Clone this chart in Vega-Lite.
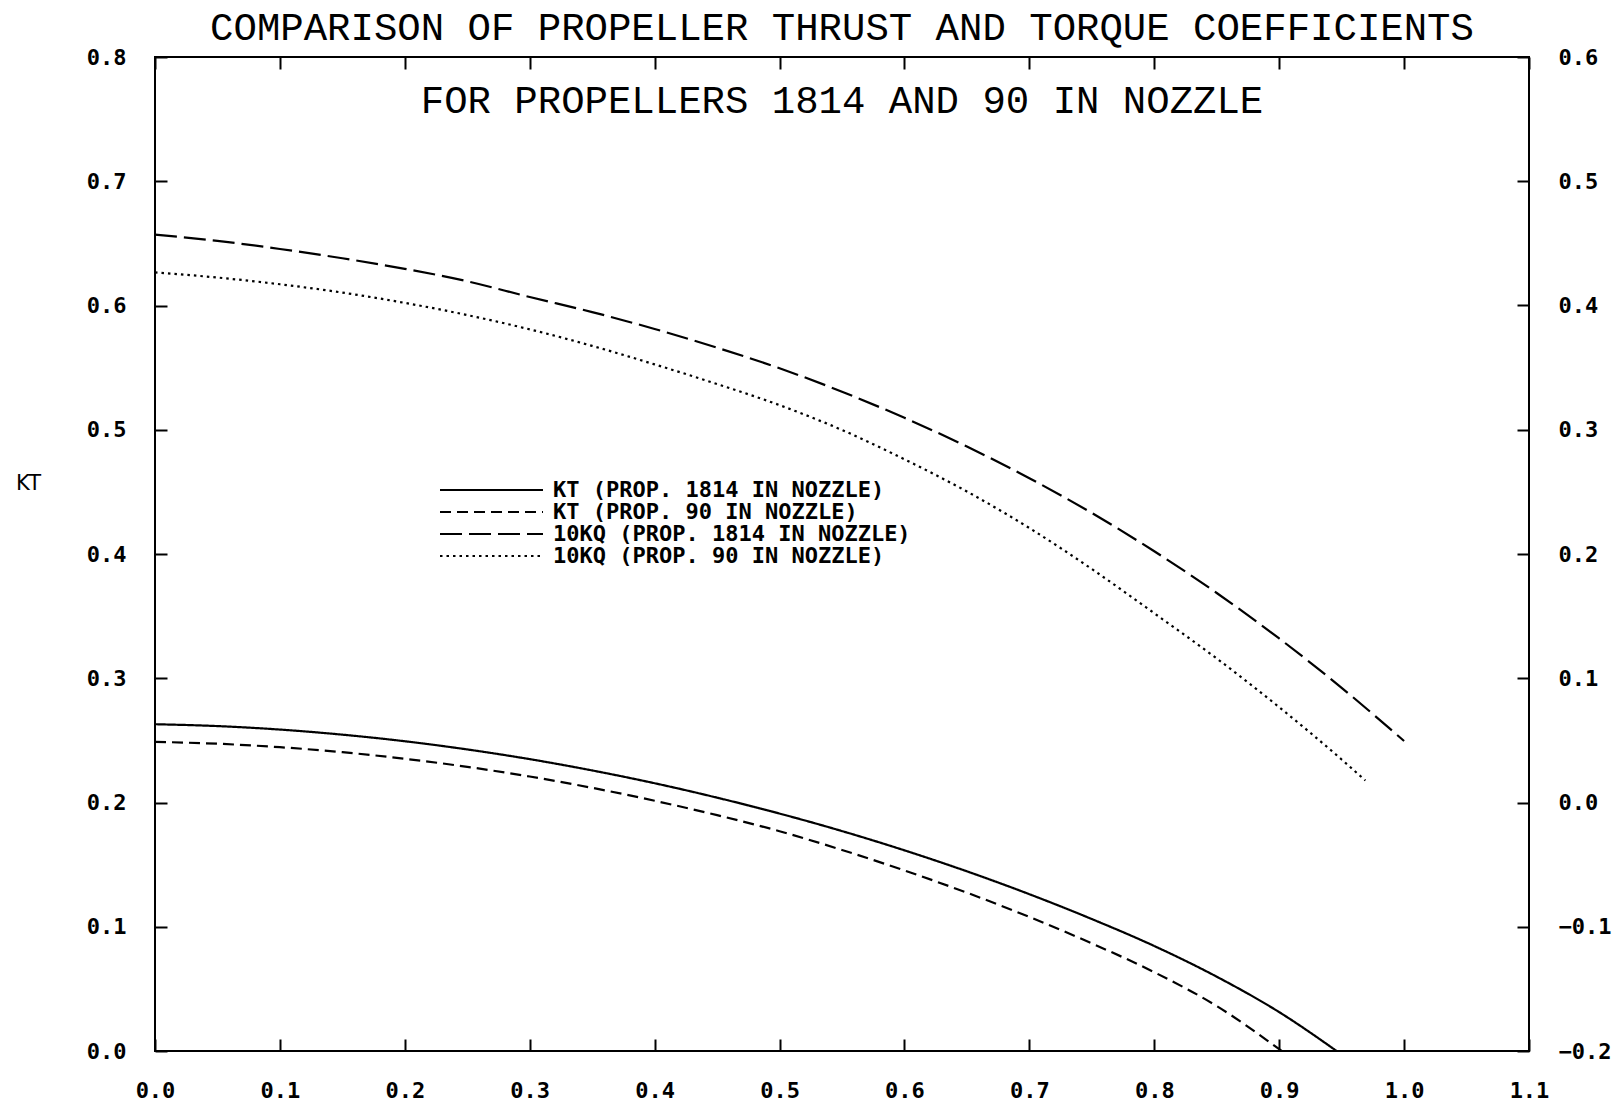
{
  "$schema": "https://vega.github.io/schema/vega-lite/v6.json",
  "width": 1374,
  "height": 994,
  "autosize": {"type": "none"},
  "padding": {"left": 155, "top": 57, "right": 91, "bottom": 56},
  "background": "white",
  "config": {
    "view": {"stroke": "black", "strokeWidth": 2},
    "axis": {
      "grid": false,
      "domain": false,
      "ticks": true,
      "tickColor": "black",
      "tickWidth": 2,
      "tickSize": -12,
      "labelFlush": false,
      "labelFont": "DejaVu Sans Mono",
      "labelFontWeight": "bold",
      "labelFontSize": 22,
      "labelColor": "black"
    }
  },
  "datasets": {
    "curves": [
      {"series": "KT (PROP. 1814 IN NOZZLE)", "J": 0.0, "value": 0.263},
      {"series": "KT (PROP. 1814 IN NOZZLE)", "J": 0.05, "value": 0.2615},
      {"series": "KT (PROP. 1814 IN NOZZLE)", "J": 0.1, "value": 0.2587},
      {"series": "KT (PROP. 1814 IN NOZZLE)", "J": 0.15, "value": 0.2546},
      {"series": "KT (PROP. 1814 IN NOZZLE)", "J": 0.2, "value": 0.2493},
      {"series": "KT (PROP. 1814 IN NOZZLE)", "J": 0.25, "value": 0.2427},
      {"series": "KT (PROP. 1814 IN NOZZLE)", "J": 0.3, "value": 0.2349},
      {"series": "KT (PROP. 1814 IN NOZZLE)", "J": 0.35, "value": 0.2258},
      {"series": "KT (PROP. 1814 IN NOZZLE)", "J": 0.4, "value": 0.2155},
      {"series": "KT (PROP. 1814 IN NOZZLE)", "J": 0.45, "value": 0.2039},
      {"series": "KT (PROP. 1814 IN NOZZLE)", "J": 0.5, "value": 0.1911},
      {"series": "KT (PROP. 1814 IN NOZZLE)", "J": 0.55, "value": 0.177},
      {"series": "KT (PROP. 1814 IN NOZZLE)", "J": 0.6, "value": 0.1615},
      {"series": "KT (PROP. 1814 IN NOZZLE)", "J": 0.65, "value": 0.1446},
      {"series": "KT (PROP. 1814 IN NOZZLE)", "J": 0.7, "value": 0.1262},
      {"series": "KT (PROP. 1814 IN NOZZLE)", "J": 0.75, "value": 0.1062},
      {"series": "KT (PROP. 1814 IN NOZZLE)", "J": 0.8, "value": 0.0845},
      {"series": "KT (PROP. 1814 IN NOZZLE)", "J": 0.85, "value": 0.0598},
      {"series": "KT (PROP. 1814 IN NOZZLE)", "J": 0.9, "value": 0.0313},
      {"series": "KT (PROP. 1814 IN NOZZLE)", "J": 0.946, "value": 0.0},
      {"series": "KT (PROP. 90 IN NOZZLE)", "J": 0.0, "value": 0.2488},
      {"series": "KT (PROP. 90 IN NOZZLE)", "J": 0.05, "value": 0.2473},
      {"series": "KT (PROP. 90 IN NOZZLE)", "J": 0.1, "value": 0.2445},
      {"series": "KT (PROP. 90 IN NOZZLE)", "J": 0.15, "value": 0.2405},
      {"series": "KT (PROP. 90 IN NOZZLE)", "J": 0.2, "value": 0.2352},
      {"series": "KT (PROP. 90 IN NOZZLE)", "J": 0.25, "value": 0.2287},
      {"series": "KT (PROP. 90 IN NOZZLE)", "J": 0.3, "value": 0.2209},
      {"series": "KT (PROP. 90 IN NOZZLE)", "J": 0.35, "value": 0.2118},
      {"series": "KT (PROP. 90 IN NOZZLE)", "J": 0.4, "value": 0.2014},
      {"series": "KT (PROP. 90 IN NOZZLE)", "J": 0.45, "value": 0.1898},
      {"series": "KT (PROP. 90 IN NOZZLE)", "J": 0.5, "value": 0.1769},
      {"series": "KT (PROP. 90 IN NOZZLE)", "J": 0.55, "value": 0.1618},
      {"series": "KT (PROP. 90 IN NOZZLE)", "J": 0.6, "value": 0.1453},
      {"series": "KT (PROP. 90 IN NOZZLE)", "J": 0.65, "value": 0.1274},
      {"series": "KT (PROP. 90 IN NOZZLE)", "J": 0.7, "value": 0.1079},
      {"series": "KT (PROP. 90 IN NOZZLE)", "J": 0.75, "value": 0.0866},
      {"series": "KT (PROP. 90 IN NOZZLE)", "J": 0.8, "value": 0.0634},
      {"series": "KT (PROP. 90 IN NOZZLE)", "J": 0.85, "value": 0.0362},
      {"series": "KT (PROP. 90 IN NOZZLE)", "J": 0.902, "value": 0.0},
      {"series": "10KQ (PROP. 1814 IN NOZZLE)", "J": 0.0, "value": 0.457},
      {"series": "10KQ (PROP. 1814 IN NOZZLE)", "J": 0.05, "value": 0.452},
      {"series": "10KQ (PROP. 1814 IN NOZZLE)", "J": 0.1, "value": 0.4455},
      {"series": "10KQ (PROP. 1814 IN NOZZLE)", "J": 0.15, "value": 0.438},
      {"series": "10KQ (PROP. 1814 IN NOZZLE)", "J": 0.2, "value": 0.4295},
      {"series": "10KQ (PROP. 1814 IN NOZZLE)", "J": 0.25, "value": 0.4195},
      {"series": "10KQ (PROP. 1814 IN NOZZLE)", "J": 0.3, "value": 0.4068},
      {"series": "10KQ (PROP. 1814 IN NOZZLE)", "J": 0.35, "value": 0.3947},
      {"series": "10KQ (PROP. 1814 IN NOZZLE)", "J": 0.4, "value": 0.3811},
      {"series": "10KQ (PROP. 1814 IN NOZZLE)", "J": 0.45, "value": 0.366},
      {"series": "10KQ (PROP. 1814 IN NOZZLE)", "J": 0.5, "value": 0.3495},
      {"series": "10KQ (PROP. 1814 IN NOZZLE)", "J": 0.55, "value": 0.3306},
      {"series": "10KQ (PROP. 1814 IN NOZZLE)", "J": 0.6, "value": 0.3096},
      {"series": "10KQ (PROP. 1814 IN NOZZLE)", "J": 0.65, "value": 0.2865},
      {"series": "10KQ (PROP. 1814 IN NOZZLE)", "J": 0.7, "value": 0.261},
      {"series": "10KQ (PROP. 1814 IN NOZZLE)", "J": 0.75, "value": 0.233},
      {"series": "10KQ (PROP. 1814 IN NOZZLE)", "J": 0.8, "value": 0.2022},
      {"series": "10KQ (PROP. 1814 IN NOZZLE)", "J": 0.85, "value": 0.1686},
      {"series": "10KQ (PROP. 1814 IN NOZZLE)", "J": 0.9, "value": 0.132},
      {"series": "10KQ (PROP. 1814 IN NOZZLE)", "J": 0.95, "value": 0.0923},
      {"series": "10KQ (PROP. 1814 IN NOZZLE)", "J": 1.0, "value": 0.0495},
      {"series": "10KQ (PROP. 90 IN NOZZLE)", "J": 0.0, "value": 0.4266},
      {"series": "10KQ (PROP. 90 IN NOZZLE)", "J": 0.05, "value": 0.4225},
      {"series": "10KQ (PROP. 90 IN NOZZLE)", "J": 0.1, "value": 0.4171},
      {"series": "10KQ (PROP. 90 IN NOZZLE)", "J": 0.15, "value": 0.4104},
      {"series": "10KQ (PROP. 90 IN NOZZLE)", "J": 0.2, "value": 0.4021},
      {"series": "10KQ (PROP. 90 IN NOZZLE)", "J": 0.25, "value": 0.3923},
      {"series": "10KQ (PROP. 90 IN NOZZLE)", "J": 0.3, "value": 0.3808},
      {"series": "10KQ (PROP. 90 IN NOZZLE)", "J": 0.35, "value": 0.3675},
      {"series": "10KQ (PROP. 90 IN NOZZLE)", "J": 0.4, "value": 0.3526},
      {"series": "10KQ (PROP. 90 IN NOZZLE)", "J": 0.45, "value": 0.3368},
      {"series": "10KQ (PROP. 90 IN NOZZLE)", "J": 0.5, "value": 0.3198},
      {"series": "10KQ (PROP. 90 IN NOZZLE)", "J": 0.55, "value": 0.2998},
      {"series": "10KQ (PROP. 90 IN NOZZLE)", "J": 0.6, "value": 0.2762},
      {"series": "10KQ (PROP. 90 IN NOZZLE)", "J": 0.65, "value": 0.2503},
      {"series": "10KQ (PROP. 90 IN NOZZLE)", "J": 0.7, "value": 0.2209},
      {"series": "10KQ (PROP. 90 IN NOZZLE)", "J": 0.75, "value": 0.1879},
      {"series": "10KQ (PROP. 90 IN NOZZLE)", "J": 0.8, "value": 0.1523},
      {"series": "10KQ (PROP. 90 IN NOZZLE)", "J": 0.85, "value": 0.1159},
      {"series": "10KQ (PROP. 90 IN NOZZLE)", "J": 0.9, "value": 0.0767},
      {"series": "10KQ (PROP. 90 IN NOZZLE)", "J": 0.95, "value": 0.0346},
      {"series": "10KQ (PROP. 90 IN NOZZLE)", "J": 0.969, "value": 0.0177}
    ]
  },
  "layer": [
    {
      "layer": [
        {
          "data": {"name": "curves"},
          "transform": [{"filter": {"field": "series", "oneOf": ["KT (PROP. 1814 IN NOZZLE)", "KT (PROP. 90 IN NOZZLE)"]}}],
          "mark": {"type": "line", "color": "black", "strokeWidth": 2.2, "interpolate": "monotone"},
          "encoding": {
            "x": {
              "field": "J", "type": "quantitative",
              "scale": {"domain": [0, 1.1], "nice": false, "zero": false},
              "axis": {"orient": "bottom", "values": [0, 0.1, 0.2, 0.3, 0.4, 0.5, 0.6, 0.7, 0.8, 0.9, 1, 1.1], "format": ".1f", "title": null, "labelPadding": 41}
            },
            "y": {
              "field": "value", "type": "quantitative",
              "scale": {"domain": [0, 0.8], "nice": false},
              "axis": {"orient": "left", "values": [0, 0.1, 0.2, 0.3, 0.4, 0.5, 0.6, 0.7, 0.8], "format": ".1f", "title": "KT", "titleAngle": 0, "titleX": -127, "titleY": 426, "titleAlign": "center", "titleBaseline": "middle", "titleFont": "DejaVu Sans", "titleFontSize": 21, "titleFontWeight": "normal", "titleColor": "black", "labelPadding": 41}
            },
            "strokeDash": {
              "field": "series", "type": "nominal",
              "scale": {
                "domain": ["KT (PROP. 1814 IN NOZZLE)", "KT (PROP. 90 IN NOZZLE)", "10KQ (PROP. 1814 IN NOZZLE)", "10KQ (PROP. 90 IN NOZZLE)"],
                "range": [[1, 0], [11, 6], [22, 7], [2.5, 4]]
              },
              "legend": {
                "title": null, "orient": "none", "legendX": 284, "legendY": 422,
                "symbolType": "stroke", "symbolSize": 10609, "symbolStrokeWidth": 2, "symbolStrokeColor": "black",
                "clipHeight": 22, "rowPadding": 0, "labelOffset": 9, "padding": 0,
                "labelFont": "DejaVu Sans Mono", "labelFontWeight": "bold", "labelFontSize": 22, "labelColor": "black", "labelLimit": 0
              }
            }
          }
        },
        {
          "data": {"values": [{}]},
          "mark": {"type": "text", "text": "COMPARISON OF PROPELLER THRUST AND TORQUE COEFFICIENTS", "font": "Liberation Mono", "fontSize": 39, "baseline": "middle", "align": "center", "color": "black"},
          "encoding": {
            "x": {"datum": 0.55, "type": "quantitative"},
            "y": {"datum": 0.8234, "type": "quantitative"}
          }
        },
        {
          "data": {"values": [{}]},
          "mark": {"type": "text", "text": "FOR PROPELLERS 1814 AND 90 IN NOZZLE", "font": "Liberation Mono", "fontSize": 39, "baseline": "middle", "align": "center", "color": "black"},
          "encoding": {
            "x": {"datum": 0.55, "type": "quantitative"},
            "y": {"datum": 0.7643, "type": "quantitative"}
          }
        }
      ]
    },
    {
      "data": {"name": "curves"},
      "transform": [{"filter": {"field": "series", "oneOf": ["10KQ (PROP. 1814 IN NOZZLE)", "10KQ (PROP. 90 IN NOZZLE)"]}}],
      "mark": {"type": "line", "color": "black", "strokeWidth": 2.2, "interpolate": "monotone"},
      "encoding": {
        "x": {
          "field": "J", "type": "quantitative",
          "axis": {"orient": "top", "values": [0, 0.1, 0.2, 0.3, 0.4, 0.5, 0.6, 0.7, 0.8, 0.9, 1, 1.1], "labels": false, "title": null}
        },
        "y": {
          "field": "value", "type": "quantitative",
          "scale": {"domain": [-0.2, 0.6], "nice": false},
          "axis": {"orient": "right", "values": [-0.2, -0.1, 0, 0.1, 0.2, 0.3, 0.4, 0.5, 0.6], "format": ".1f", "title": null, "labelPadding": 41}
        },
        "strokeDash": {"field": "series", "type": "nominal"}
      }
    }
  ],
  "resolve": {"scale": {"y": "independent"}, "axis": {"x": "independent"}}
}
